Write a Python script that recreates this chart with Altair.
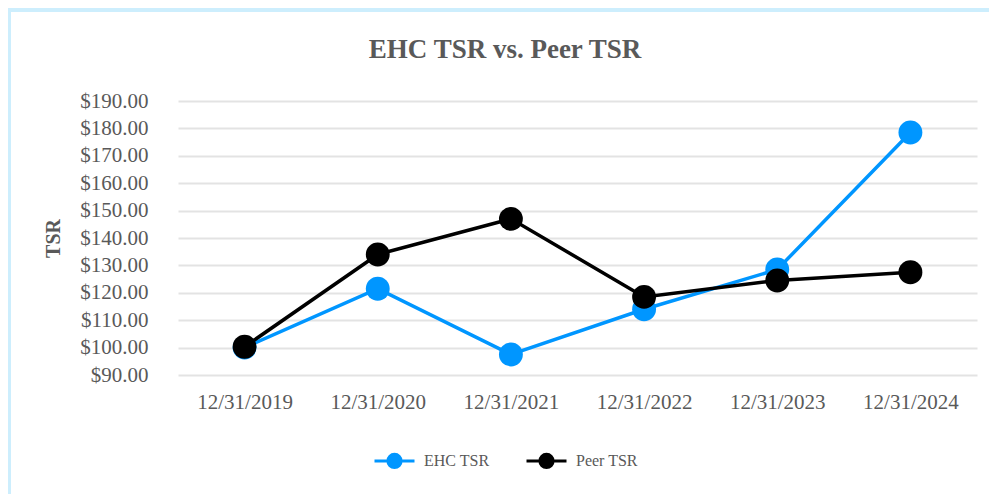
import altair as alt
import pandas as pd

dates = ["12/31/2019", "12/31/2020", "12/31/2021", "12/31/2022", "12/31/2023", "12/31/2024"]
ehc = [100.0, 121.5, 97.5, 114.0, 128.5, 178.5]
peer = [100.3, 134.0, 147.0, 118.5, 124.5, 127.5]
series = ["EHC TSR", "Peer TSR"]
colors = ["#0096FF", "#000000"]
y_ticks = [90, 100, 110, 120, 130, 140, 150, 160, 170, 180, 190]
chart_title = "EHC TSR vs. Peer TSR"

rows = []
for d, v in zip(dates, ehc):
    rows.append({"Date": d, "Series": series[0], "TSR": v})
for d, v in zip(dates, peer):
    rows.append({"Date": d, "Series": series[1], "TSR": v})
df = pd.DataFrame(rows)

TXT = "#595959"
FONT = "Liberation Serif"

legend_path = ("M -1 0 L -0.33 0 M 0.33 0 L 1 0 "
               "M -0.33 0 A 0.33 0.33 0 1 1 0.33 0 A 0.33 0.33 0 1 1 -0.33 0 Z")

x_enc = alt.X("Date:O", sort=dates, title=None,
              scale=alt.Scale(type="point", padding=0.5),
              axis=alt.Axis(labelAngle=0, labelFont=FONT, labelFontSize=21, labelColor=TXT,
                            ticks=False, domain=False, grid=False, labelPadding=16))
y_enc = alt.Y("TSR:Q", title="TSR",
              scale=alt.Scale(domain=[90, 190], nice=False, zero=False),
              axis=alt.Axis(values=y_ticks, format="$.2f", labelFont=FONT, labelFontSize=21,
                            labelColor=TXT, ticks=False, domain=False, gridColor="#E3E3E3",
                            gridWidth=2, labelPadding=30, titleFont=FONT, titleFontSize=20,
                            titleColor=TXT, titleFontWeight="bold", titlePadding=16))
color_enc = alt.Color("Series:N", sort=series,
                      scale=alt.Scale(domain=series, range=colors),
                      legend=alt.Legend(title=None, orient="none", direction="horizontal",
                                        legendX=195, legendY=338,
                                        symbolType=legend_path, symbolSize=1600,
                                        symbolStrokeWidth=3, labelFont=FONT, labelFontSize=16,
                                        labelColor=TXT, columnPadding=30, labelOffset=8))

base = alt.Chart(df)
lines = base.mark_line(strokeWidth=3.5).encode(x=x_enc, y=y_enc, color=color_enc)
points = base.mark_point(filled=True, size=570, opacity=1).encode(
    x=x_enc, y=y_enc, color=alt.Color("Series:N", sort=series,
                                      scale=alt.Scale(domain=series, range=colors), legend=None))

one = alt.Data(values=[{"t": chart_title}])
frame = alt.Chart(one).mark_rect(
    fill=None, stroke="#CDEEFD", strokeWidth=4).encode(
    x=alt.value(-169), x2=alt.value(900), y=alt.value(-91), y2=alt.value(450))
title_txt = alt.Chart(one).mark_text(
    font=FONT, fontSize=27, fontWeight="bold", color=TXT, align="center",
    baseline="alphabetic").encode(
    text="t:N", x=alt.value(327), y=alt.value(-43))

chart = alt.layer(frame, title_txt, lines, points).properties(
    width=799, height=274,
    padding={"left": 170, "top": 93, "right": 12, "bottom": 119},
    autosize=alt.AutoSizeParams(type="none"),
).configure_view(stroke=None)

chart.save("out.html", embed_options={"renderer": "svg", "actions": False})
